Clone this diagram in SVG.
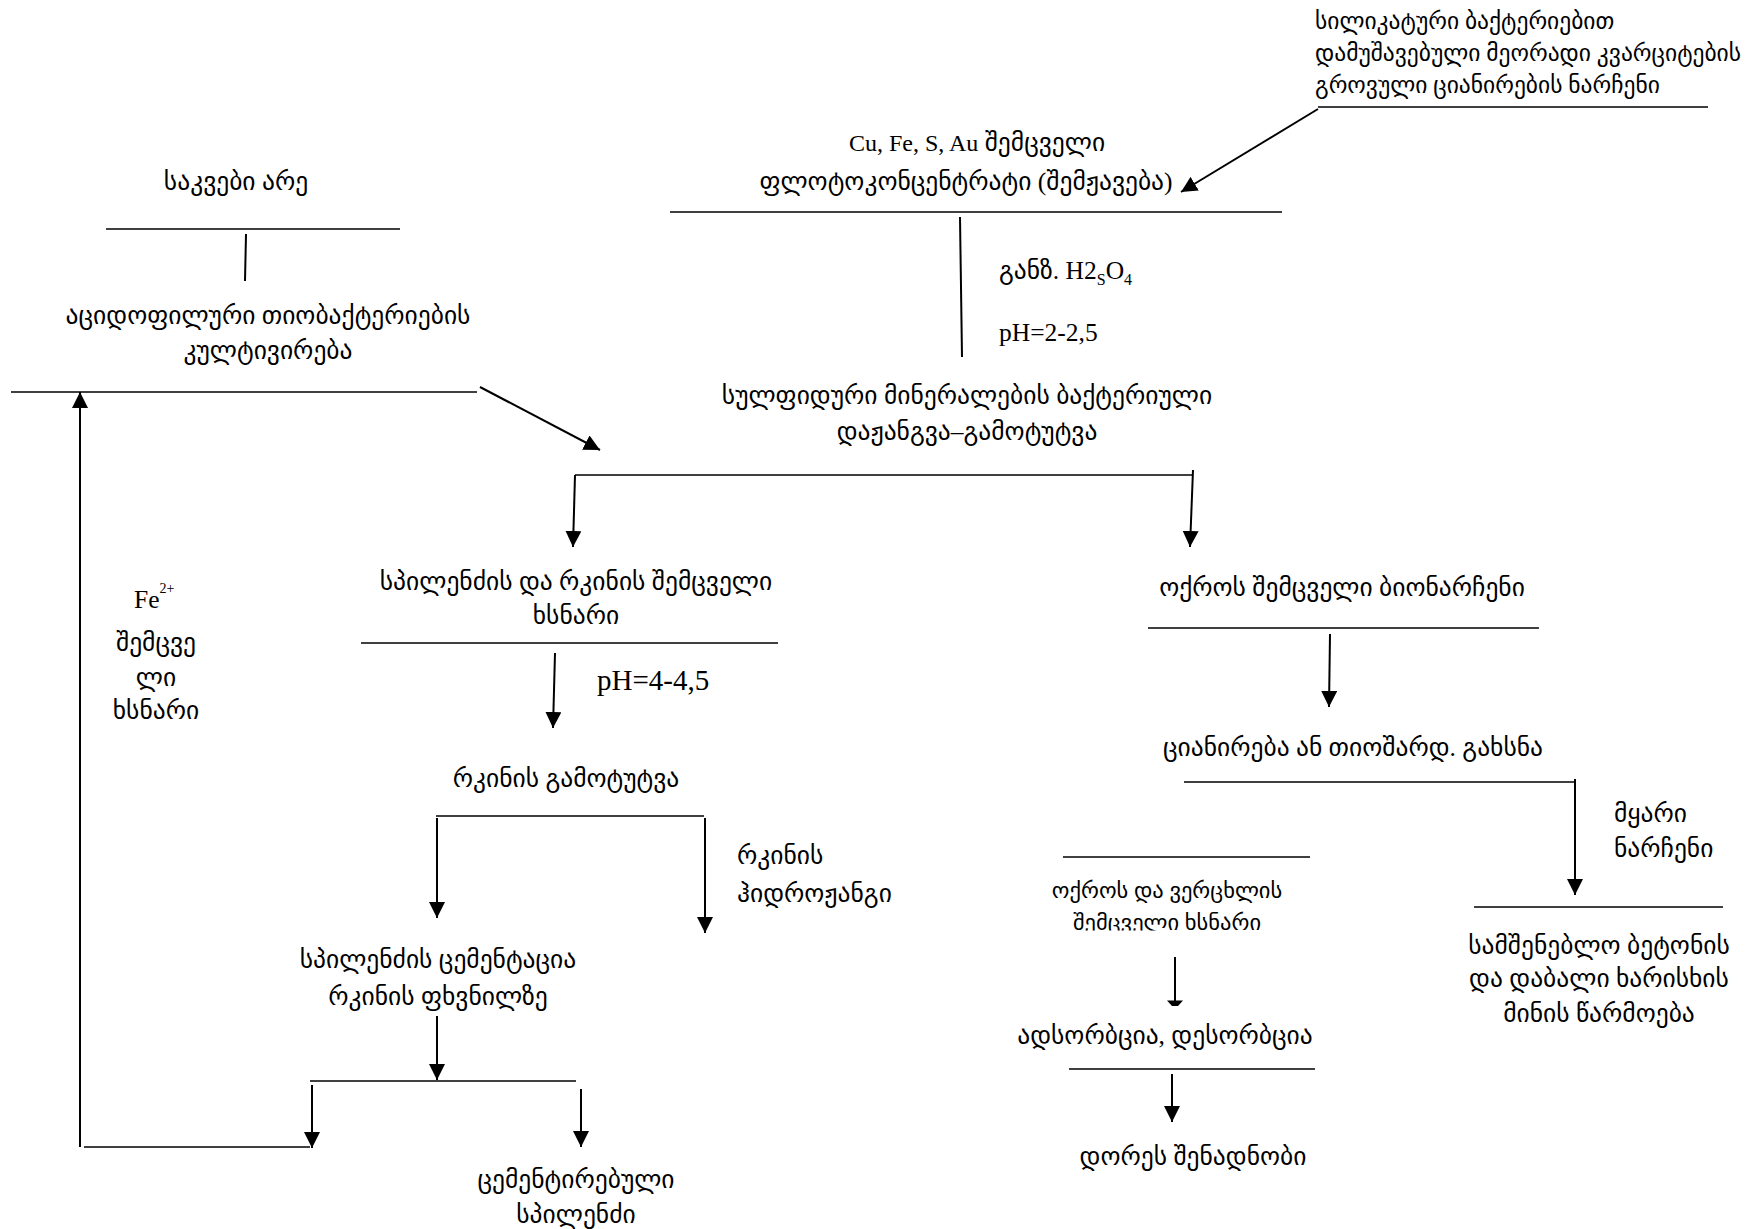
<svg xmlns="http://www.w3.org/2000/svg" width="1751" height="1229" viewBox="0 0 1751 1229">
<style>
text{font-family:'Liberation Serif','DejaVu Sans',serif;font-size:25.5px;fill:#000}
.c{text-anchor:middle}
.ln{stroke:#000;stroke-width:1.4;fill:none}
.ar{stroke:#000;stroke-width:2;fill:none;marker-end:url(#ah)}
.big{font-size:29px}
.sm{font-size:22.5px}
.tr{font-size:23.5px}
.lat{font-size:24px}
</style>
<defs>
<marker id="ah" viewBox="0 0 16 16" refX="16" refY="8" markerWidth="8" markerHeight="8" orient="auto" markerUnits="strokeWidth">
<path d="M0,0 L16,8 L0,16 z" fill="#000"/>
</marker>
<clipPath id="cut"><rect x="1000" y="870" width="340" height="60.5"/></clipPath>
</defs>
<rect width="1751" height="1229" fill="#fff"/>
<g id="connectors">
<line class="ln" x1="1318" y1="107" x2="1708" y2="107"/>
<line class="ar" x1="1318" y1="109" x2="1181" y2="192"/>
<line class="ln" x1="670" y1="212" x2="1282" y2="212"/>
<line class="ln" x1="960" y1="217" x2="962" y2="357" style="stroke-width:2"/>
<line class="ln" x1="575" y1="475" x2="1193" y2="475"/>
<line class="ar" x1="575" y1="475" x2="573" y2="547"/>
<line class="ar" x1="1193" y1="470" x2="1190" y2="547"/>
<line class="ln" x1="106" y1="229" x2="400" y2="229"/>
<line class="ln" x1="246" y1="234" x2="245" y2="281" style="stroke-width:2"/>
<line class="ln" x1="11" y1="392" x2="477" y2="392"/>
<line class="ar" x1="480" y1="387" x2="600" y2="450"/>
<line class="ar" x1="80" y1="1147" x2="80" y2="392"/>
<line class="ln" x1="84" y1="1147" x2="310" y2="1147"/>
<line class="ln" x1="361" y1="643" x2="778" y2="643"/>
<line class="ar" x1="555" y1="653" x2="553" y2="728"/>
<line class="ln" x1="436" y1="816" x2="704" y2="816"/>
<line class="ar" x1="437" y1="818" x2="437" y2="918"/>
<line class="ar" x1="705" y1="818" x2="705" y2="933"/>
<line class="ar" x1="437" y1="1016" x2="437" y2="1080"/>
<line class="ln" x1="310" y1="1081" x2="576" y2="1081"/>
<line class="ar" x1="312" y1="1085" x2="312" y2="1148"/>
<line class="ar" x1="581" y1="1089" x2="581" y2="1147"/>
<line class="ln" x1="1148" y1="628" x2="1539" y2="628"/>
<line class="ar" x1="1330" y1="634" x2="1329" y2="707"/>
<line class="ln" x1="1184" y1="782" x2="1575" y2="782"/>
<line class="ar" x1="1575" y1="779" x2="1575" y2="895"/>
<line class="ln" x1="1474" y1="907" x2="1723" y2="907"/>
<line class="ln" x1="1063" y1="857" x2="1310" y2="857"/>
<line class="ln" x1="1175" y1="957" x2="1175" y2="1001" style="stroke-width:2"/>
<path d="M1167,1000.5 L1183,1000.5 L1178,1006 L1172,1006 z" fill="#000"/>
<line class="ln" x1="1069" y1="1069" x2="1315" y2="1069"/>
<line class="ar" x1="1172" y1="1074" x2="1172" y2="1122"/>
</g>
<g id="n-silicate">
<text class="tr" x="1315" y="29">სილიკატური ბაქტერიებით</text>
<text class="tr" x="1315" y="61">დამუშავებული მეორადი კვარციტების</text>
<text class="tr" x="1315" y="93">გროვული ციანირების ნარჩენი</text>
</g>
<g id="n-flotation">
<text class="c" x="977" y="151"><tspan class="lat">Cu, Fe, S, Au</tspan> შემცველი</text>
<text class="c" x="966" y="190">ფლოტოკონცენტრატი (შემჟავება)</text>
</g>
<g id="n-acid">
<text x="999" y="279">განზ. H2<tspan font-size="16" dy="6">S</tspan><tspan dy="-6">O</tspan><tspan font-size="16" dy="6">4</tspan></text>
<text x="999" y="341">pH=2-2,5</text>
</g>
<g id="n-leach">
<text class="c" x="967" y="404">სულფიდური მინერალების ბაქტერიული</text>
<text class="c" x="967" y="440">დაჟანგვა–გამოტუტვა</text>
</g>
<g id="n-nutrient">
<text class="c" x="236" y="190">საკვები არე</text>
</g>
<g id="n-cultivation">
<text class="c" x="268" y="324">აციდოფილური თიობაქტერიების</text>
<text class="c" x="268" y="359">კულტივირება</text>
</g>
<g id="n-fe">
<text x="134" y="608">Fe<tspan font-size="14" dy="-15">2+</tspan></text>
<text class="c" x="156" y="651">შემცვე</text>
<text class="c" x="156" y="686">ლი</text>
<text class="c" x="156" y="719">ხსნარი</text>
</g>
<g id="n-cufe">
<text class="c" x="576" y="590">სპილენძის და რკინის შემცველი</text>
<text class="c" x="576" y="624">ხსნარი</text>
</g>
<g id="n-ph4">
<text class="big" x="597" y="690">pH=4-4,5</text>
</g>
<g id="n-feleach">
<text class="c" x="566" y="787">რკინის გამოტუტვა</text>
</g>
<g id="n-fehyd">
<text x="737" y="864">რკინის</text>
<text x="737" y="902">ჰიდროჟანგი</text>
</g>
<g id="n-cement">
<text class="c" x="438" y="968">სპილენძის ცემენტაცია</text>
<text class="c" x="438" y="1005">რკინის ფხვნილზე</text>
</g>
<g id="n-cucem">
<text class="c" x="576" y="1188">ცემენტირებული</text>
<text class="c" x="576" y="1223">სპილენძი</text>
</g>
<g id="n-goldres">
<text class="c" x="1342" y="596">ოქროს შემცველი ბიონარჩენი</text>
</g>
<g id="n-cyan">
<text class="c" x="1353" y="756">ციანირება ან თიოშარდ. გახსნა</text>
</g>
<g id="n-solid">
<text x="1614" y="822">მყარი</text>
<text x="1614" y="857">ნარჩენი</text>
</g>
<g id="n-build">
<text class="c" x="1599" y="954">სამშენებლო ბეტონის</text>
<text class="c" x="1599" y="987">და დაბალი ხარისხის</text>
<text class="c" x="1599" y="1022">მინის წარმოება</text>
</g>
<g id="n-agau">
<text class="c sm" x="1167" y="898">ოქროს და ვერცხლის</text>
<text class="c sm" x="1167" y="930" clip-path="url(#cut)">შემცველი ხსნარი</text>
</g>
<g id="n-ads">
<text class="c" x="1165" y="1044">ადსორბცია, დესორბცია</text>
</g>
<g id="n-dore">
<text class="c" x="1193" y="1165">დორეს შენადნობი</text>
</g>
</svg>
